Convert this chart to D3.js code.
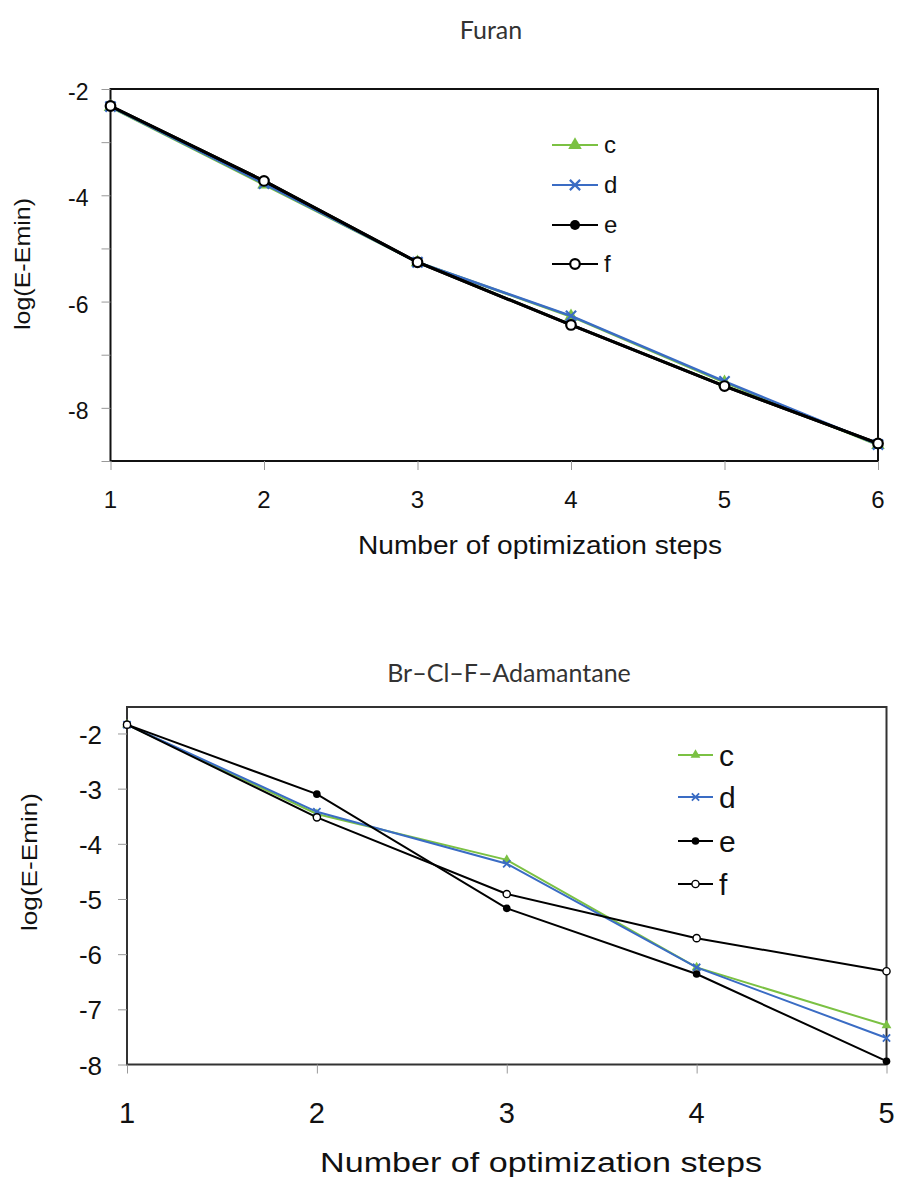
<!DOCTYPE html>
<html lang="en">
<head>
    <meta charset="UTF-8">
    <title>Furan / Br-Cl-F-Adamantane convergence</title>
    <script src="https://d3js.org/d3.v7.min.js"></script>
    <style>
        body { margin: 0; background: #fff; }
        svg { display: block; }
        .title { font-family: Lato, "Open Sans", sans-serif; fill: #333; }
        .lbl { font-family: "Liberation Sans", Arial, sans-serif; fill: #111; }
    </style>
</head>
<body>
    <svg width="897" height="1177"></svg>
    <script>
        // values
        const seriesNames = ["c", "d", "e", "f"];

        const furanSteps = [1, 2, 3, 4, 5, 6];
        const furanC = [-2.34, -3.80, -5.26, -6.28, -7.52, -8.70];
        const furanD = [-2.33, -3.78, -5.26, -6.27, -7.50, -8.69];
        const furanE = [-2.32, -3.73, -5.26, -6.44, -7.59, -8.67];
        const furanF = [-2.32, -3.73, -5.26, -6.44, -7.59, -8.67];
        const furanYTicks = [-9, -8, -7, -6, -5, -4, -3, -2];
        const furanYLabels = [-8, -6, -4, -2];

        const adaSteps = [1, 2, 3, 4, 5];
        const adaC = [-1.84, -3.46, -4.29, -6.24, -7.29];
        const adaD = [-1.84, -3.42, -4.36, -6.24, -7.52];
        const adaE = [-1.84, -3.10, -5.17, -6.36, -7.94];
        const adaF = [-1.84, -3.52, -4.91, -5.71, -6.31];
        const adaYTicks = [-8, -7, -6, -5, -4, -3, -2];

        const green = "#7bc143", blue = "#3a6cc4";
        const svg = d3.select("svg");

        const symTimes = d3.symbolTimes || d3.symbolX;

        function marker(sel, name, big) {
            const k = big ? 1 : 0.72;
            if (name === "c") {
                sel.append("path").attr("d", d3.symbol(d3.symbolTriangle, 80 * k * k)())
                    .attr("fill", green);
            } else if (name === "d") {
                sel.append("path").attr("d", d3.symbol(symTimes, 70 * k * k)())
                    .attr("fill", "none").attr("stroke", blue).attr("stroke-width", big ? 2.2 : 1.8);
            } else if (name === "e") {
                sel.append("circle").attr("r", big ? 5 : 3.8).attr("fill", "#000");
            } else {
                sel.append("circle").attr("r", big ? 4.8 : 3.6).attr("fill", "#fff")
                    .attr("stroke", "#000").attr("stroke-width", big ? 2.2 : 1.4);
            }
        }

        function drawChart(o) {
            const g = svg.append("g");
            const x = d3.scaleLinear().domain(d3.extent(o.steps)).range([o.left, o.right]);
            const y = d3.scaleLinear().domain(o.yDomain).range([o.bottom, o.top]);

            // frame
            g.append("rect")
                .attr("x", o.left).attr("y", o.top)
                .attr("width", o.right - o.left).attr("height", o.bottom - o.top)
                .attr("fill", "none").attr("stroke", o.frame).attr("stroke-width", 2);

            // axes (ticks only, labels placed separately)
            g.append("g").attr("transform", `translate(${o.left},0)`)
                .call(d3.axisLeft(y).tickValues(o.yTicks).tickSize(9).tickFormat(""))
                .call(a => a.select(".domain").remove())
                .call(a => a.selectAll("line").attr("stroke", "#999"));
            g.append("g").attr("transform", `translate(0,${o.bottom})`)
                .call(d3.axisBottom(x).tickValues(o.steps).tickSize(9).tickFormat(""))
                .call(a => a.select(".domain").remove())
                .call(a => a.selectAll("line").attr("stroke", "#999"));

            g.selectAll(".ylab").data(o.yLabels).enter().append("text")
                .attr("class", "lbl")
                .attr("x", o.left - o.yLabelGap).attr("y", d => y(d) + o.yLabelShift)
                .attr("text-anchor", "end").attr("dy", "0.35em")
                .style("font-size", o.yFont + "px")
                .text(d => d);
            g.selectAll(".xlab").data(o.steps).enter().append("text")
                .attr("class", "lbl")
                .attr("x", d => x(d)).attr("y", o.xLabelY)
                .attr("text-anchor", "middle").attr("dy", "0.35em")
                .style("font-size", o.xFont + "px")
                .text(d => d);

            // titles
            g.append("text").attr("class", "title")
                .attr("x", o.titleX).attr("y", o.titleY).attr("text-anchor", "middle")
                .style("font-size", "25px").text(o.title);
            g.append("text").attr("class", "lbl")
                .attr("x", o.xTitleX).attr("y", o.xTitleY).attr("text-anchor", "middle")
                .attr("dy", "0.35em")
                .attr("textLength", o.xTitleLen).attr("lengthAdjust", "spacingAndGlyphs")
                .style("font-size", o.xTitleFont + "px")
                .text("Number of optimization steps");
            g.append("text").attr("class", "lbl")
                .attr("transform", `translate(${o.yTitleX},${o.yTitleY}) rotate(-90)`)
                .attr("text-anchor", "middle").attr("dy", "0.35em")
                .attr("textLength", o.yTitleLen).attr("lengthAdjust", "spacingAndGlyphs")
                .style("font-size", o.yTitleFont + "px")
                .text("log(E-Emin)");

            // series
            const line = d3.line().x(d => x(d[0])).y(d => y(d[1]));
            o.series.forEach((vals, i) => {
                const name = seriesNames[i];
                const pts = o.steps.map((s, j) => [s, vals[j]]);
                const col = name === "c" ? green : name === "d" ? blue : "#000";
                g.append("path").datum(pts)
                    .attr("d", line).attr("fill", "none")
                    .attr("stroke", col).attr("stroke-width", o.lineW[i]);
                g.selectAll(".m" + name).data(pts).enter().append("g")
                    .attr("transform", d => `translate(${x(d[0])},${y(d[1])})`)
                    .each(function () { marker(d3.select(this), name, o.big); });
            });

            // legend
            seriesNames.forEach((name, i) => {
                const ly = o.legendY[i];
                const col = name === "c" ? green : name === "d" ? blue : "#000";
                g.append("line")
                    .attr("x1", o.legendX[0]).attr("x2", o.legendX[1])
                    .attr("y1", ly).attr("y2", ly)
                    .attr("stroke", col).attr("stroke-width", 2);
                const m = g.append("g").attr("transform", `translate(${(o.legendX[0] + o.legendX[1]) / 2},${ly})`);
                marker(m, name, o.big);
                g.append("text").attr("class", "lbl")
                    .attr("x", o.legendX[1] + 6).attr("y", ly).attr("dy", "0.35em")
                    .style("font-size", o.legendFont + "px")
                    .text(name);
            });
        }

        drawChart({
            steps: furanSteps, series: [furanC, furanD, furanE, furanF],
            yDomain: [-9, -2], yTicks: furanYTicks, yLabels: furanYLabels,
            left: 110.5, right: 878, top: 89, bottom: 461, frame: "#111",
            big: true, lineW: [2.5, 2.5, 3, 3],
            yLabelGap: 22, yLabelShift: 3, yFont: 23, xLabelY: 500, xFont: 24,
            title: "Furan", titleX: 491, titleY: 39,
            xTitleX: 540, xTitleY: 545, xTitleLen: 364, xTitleFont: 26,
            yTitleX: 22, yTitleY: 264, yTitleLen: 132, yTitleFont: 22,
            legendX: [552, 598], legendY: [145, 185, 225, 264], legendFont: 24
        });

        drawChart({
            steps: adaSteps, series: [adaC, adaD, adaF, adaE].length ? [adaC, adaD, adaE, adaF] : [],
            yDomain: [-8, -1.52], yTicks: adaYTicks, yLabels: adaYTicks,
            left: 127, right: 886.5, top: 707, bottom: 1064.5, frame: "#333",
            big: false, lineW: [2, 2, 2, 2],
            yLabelGap: 25, yLabelShift: 1, yFont: 26, xLabelY: 1113, xFont: 29,
            title: "Br\u2013Cl\u2013F\u2013Adamantane", titleX: 509, titleY: 682,
            xTitleX: 541, xTitleY: 1163, xTitleLen: 442, xTitleFont: 27,
            yTitleX: 29, yTitleY: 862, yTitleLen: 138, yTitleFont: 22,
            legendX: [678, 713], legendY: [755, 797, 841, 884], legendFont: 30
        });
    </script>
</body>
</html>
